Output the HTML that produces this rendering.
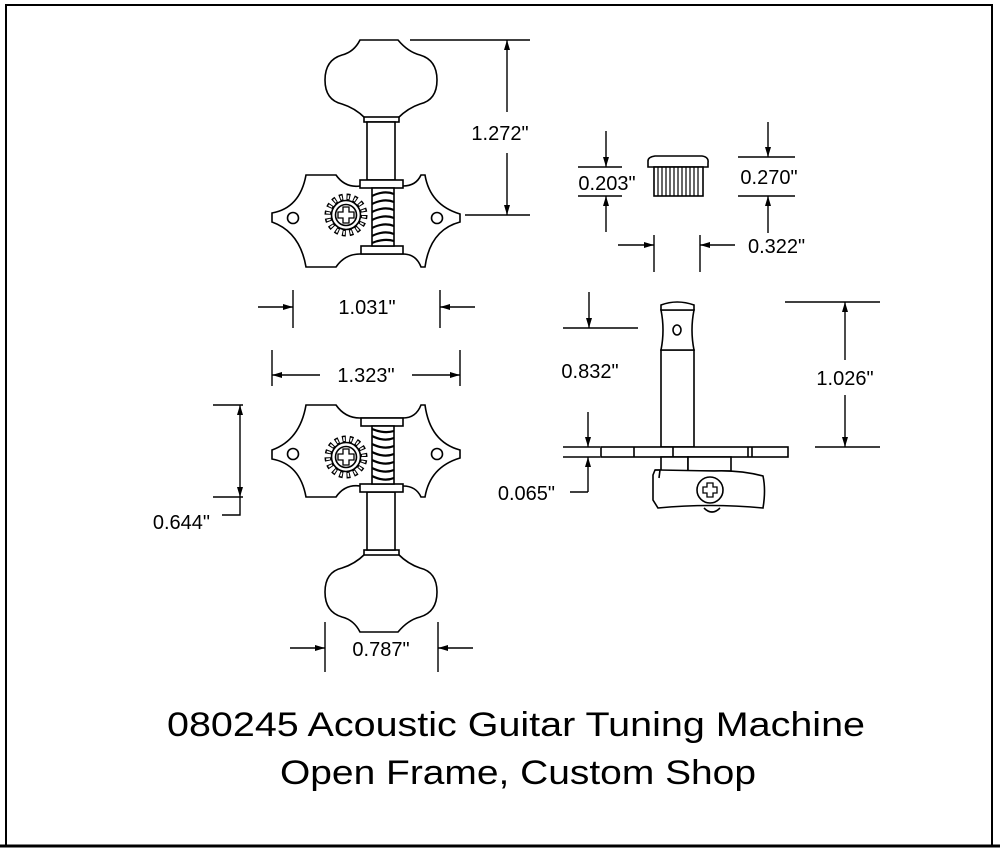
<!DOCTYPE html>
<html><head><meta charset="utf-8"><style>
html,body{margin:0;padding:0;background:#fff;}
svg{display:block;}
text{font-family:"Liberation Sans",Arial,sans-serif;fill:#000;}
</style></head><body>
<svg width="1000" height="852" viewBox="0 0 1000 852" xmlns="http://www.w3.org/2000/svg">
<defs>
<marker id="ah" viewBox="0 0 10 6" refX="10" refY="3" markerWidth="11" markerHeight="6" orient="auto" markerUnits="userSpaceOnUse">
<path d="M0,0 L10,3 L0,6 z" fill="#000"/></marker>
<g id="tuner" fill="#fff" stroke="#000" stroke-width="1.6">
  <path d="M360,40 L398,40 Q408,52 420,55 Q437,60 437,80 Q437,100 420,104 Q408,108 398,118 L365,118 Q355,108 342,104 Q325,100 325,80 Q325,60 342,55 Q354,52 360,40 Z"/>
  <rect x="364" y="117" width="35" height="5"/>
  <rect x="367" y="122" width="28" height="58"/>
  <path d="M306,175 L336,175 Q345,188 360,186 L403,186 Q416,186 421,175 L425,175 Q430,205 460,214 L460,222 Q430,230 425,267 L421,267 Q416,254 403,254 L360,254 Q345,254 336,267 L306,267 Q300,232 272,222 L272,213 Q300,208 306,175 Z"/>
  <rect x="360" y="180" width="43" height="8"/>
  <rect x="361" y="246" width="42" height="8"/>
  <circle cx="293" cy="218" r="5.5"/>
  <circle cx="437" cy="218" r="5.5"/>
  <rect x="372" y="188" width="22" height="58"/>
  <path d="M372,196 Q384,190 394,194 M372,204 Q384,198 394,202 M372,212 Q384,206 394,210 M372,220 Q384,214 394,218 M372,228 Q384,222 394,226 M372,236 Q384,230 394,234 M372,243 Q384,238 394,241" fill="none" stroke-width="2.2"/>
  <circle cx="346" cy="215" r="18" fill="none" stroke-width="7" stroke-dasharray="3.6 3.5"/>
  <circle cx="346" cy="215" r="18" fill="none" stroke="#fff" stroke-width="4" stroke-dasharray="1.6 5.5" stroke-dashoffset="-1"/>
  <circle cx="346" cy="215" r="14.5"/>
  <circle cx="346" cy="215" r="10.5"/>
  <path d="M343,207 h6 v5 h5 v6 h-5 v5 h-6 v-5 h-5 v-6 h5 z" stroke-width="1.3"/>
</g>
</defs>

<rect x="6" y="5" width="986" height="841" fill="none" stroke="#000" stroke-width="2"/>
<line x1="0" y1="846" x2="1000" y2="846" stroke="#000" stroke-width="3"/>

<use href="#tuner"/>
<use href="#tuner" transform="translate(0,672) scale(1,-1)"/>

<g stroke="#000" stroke-width="1.4" fill="none">
  <line x1="410" y1="40" x2="530" y2="40"/>
  <line x1="465" y1="215" x2="530" y2="215"/>
  <line x1="507" y1="112" x2="507" y2="40" marker-end="url(#ah)"/>
  <line x1="507" y1="153" x2="507" y2="215" marker-end="url(#ah)"/>
  <line x1="293" y1="290" x2="293" y2="328"/>
  <line x1="440" y1="290" x2="440" y2="328"/>
  <line x1="258" y1="307" x2="293" y2="307" marker-end="url(#ah)"/>
  <line x1="475" y1="307" x2="440" y2="307" marker-end="url(#ah)"/>
  <line x1="272" y1="350" x2="272" y2="386"/>
  <line x1="460" y1="350" x2="460" y2="386"/>
  <line x1="320" y1="375" x2="272" y2="375" marker-end="url(#ah)"/>
  <line x1="412" y1="375" x2="460" y2="375" marker-end="url(#ah)"/>
  <line x1="213" y1="405" x2="243" y2="405"/>
  <line x1="213" y1="497" x2="243" y2="497"/>
  <line x1="240" y1="450" x2="240" y2="405" marker-end="url(#ah)"/>
  <line x1="240" y1="450" x2="240" y2="497" marker-end="url(#ah)"/>
  <polyline points="240,497 240,515 222,515"/>
  <line x1="325" y1="622" x2="325" y2="672"/>
  <line x1="438" y1="622" x2="438" y2="672"/>
  <line x1="290" y1="648" x2="325" y2="648" marker-end="url(#ah)"/>
  <line x1="473" y1="648" x2="438" y2="648" marker-end="url(#ah)"/>
  <line x1="578" y1="167" x2="622" y2="167"/>
  <line x1="578" y1="196" x2="622" y2="196"/>
  <line x1="606" y1="131" x2="606" y2="167" marker-end="url(#ah)"/>
  <line x1="606" y1="232" x2="606" y2="196" marker-end="url(#ah)"/>
  <line x1="738" y1="157" x2="795" y2="157"/>
  <line x1="738" y1="196" x2="795" y2="196"/>
  <line x1="768" y1="122" x2="768" y2="157" marker-end="url(#ah)"/>
  <line x1="768" y1="233" x2="768" y2="196" marker-end="url(#ah)"/>
  <line x1="654" y1="235" x2="654" y2="272"/>
  <line x1="700" y1="235" x2="700" y2="272"/>
  <line x1="618" y1="245" x2="654" y2="245" marker-end="url(#ah)"/>
  <line x1="735" y1="245" x2="700" y2="245" marker-end="url(#ah)"/>
  <line x1="563" y1="328" x2="638" y2="328"/>
  <line x1="589" y1="292" x2="589" y2="328" marker-end="url(#ah)"/>
  <line x1="563" y1="447" x2="600" y2="447"/>
  <line x1="563" y1="457" x2="600" y2="457"/>
  <line x1="588" y1="412" x2="588" y2="447" marker-end="url(#ah)"/>
  <line x1="588" y1="492" x2="588" y2="457" marker-end="url(#ah)"/>
  <line x1="570" y1="492" x2="588" y2="492"/>
  <line x1="785" y1="302" x2="880" y2="302"/>
  <line x1="815" y1="447" x2="880" y2="447"/>
  <line x1="845" y1="360" x2="845" y2="302" marker-end="url(#ah)"/>
  <line x1="845" y1="395" x2="845" y2="447" marker-end="url(#ah)"/>
</g>

<g fill="#fff" stroke="#000" stroke-width="1.6">
  <path d="M648,167 L648,161 Q648,157 655,156 L702,156 Q709,157 708,163 L708,167 Z"/>
  <rect x="654" y="167" width="49" height="29"/>
  <path d="M658,167v29 M662,167v29 M666,167v29 M670,167v29 M674,167v29 M678,167v29 M682,167v29 M686,167v29 M690,167v29 M694,167v29 M698,167v29" stroke-width="1.2"/>
</g>

<g fill="#fff" stroke="#000" stroke-width="1.6">
  <rect x="661" y="350" width="33" height="97"/>
  <path d="M661,350 Q665,330 661,310 L694,310 Q690,330 694,350 Z"/>
  <path d="M661,310 L661,305 Q677,299 694,305 L694,310 Z"/>
  <ellipse cx="677" cy="330" rx="4" ry="5"/>
  <rect x="601" y="447" width="187" height="10"/>
  <path d="M634,447v10 M673,447v10 M748,447v10 M752,447v10"/>
  <rect x="661" y="457" width="27" height="14"/>
  <rect x="688" y="457" width="43" height="14"/>
  <path d="M659,470 L655,470 L653,475 L653,500 L658,508 Q710,503 763,508 Q766,490 763,476 Q740,470 714,471 Z"/>
  <path d="M655,470 L660,470 L659,478" fill="none"/>
  <circle cx="710" cy="490" r="13"/>
  <path d="M707,483 h6 v4 h4 v6 h-4 v4 h-6 v-4 h-4 v-6 h4 z" stroke-width="1.3"/>
  <path d="M704,508 Q712,516 720,508" fill="none"/>
</g>

<g font-size="20">
  <text x="500" y="140" text-anchor="middle">1.272"</text>
  <text x="367" y="314" text-anchor="middle">1.031"</text>
  <text x="366" y="382" text-anchor="middle">1.323"</text>
  <text x="210" y="529" text-anchor="end">0.644"</text>
  <text x="381" y="656" text-anchor="middle">0.787"</text>
  <text x="607" y="190" text-anchor="middle">0.203"</text>
  <text x="769" y="184" text-anchor="middle">0.270"</text>
  <text x="748" y="253">0.322"</text>
  <text x="590" y="378" text-anchor="middle">0.832"</text>
  <text x="555" y="500" text-anchor="end">0.065"</text>
  <text x="845" y="385" text-anchor="middle">1.026"</text>
</g>
<text x="516" y="736" font-size="34" text-anchor="middle" textLength="698" lengthAdjust="spacingAndGlyphs">080245 Acoustic Guitar Tuning Machine</text>
<text x="518" y="784" font-size="34" text-anchor="middle" textLength="476" lengthAdjust="spacingAndGlyphs">Open Frame, Custom Shop</text>
</svg>
</body></html>
